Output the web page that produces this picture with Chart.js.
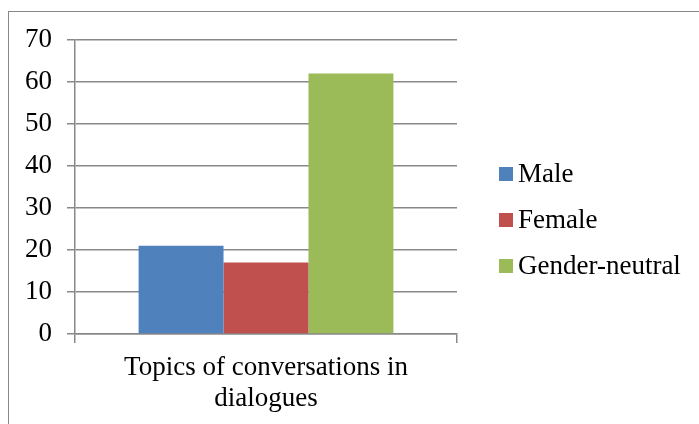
<!DOCTYPE html>
<html>
<head>
<meta charset="utf-8">
<script src="https://cdn.jsdelivr.net/npm/chart.js@4/dist/chart.umd.min.js"></script>
<style>
    html, body { margin: 0; padding: 0; background: #fff; overflow: hidden; }
    #frame {
        position: absolute; left: 8px; top: 11px;
        width: 720px; height: 440px;
        border: 1px solid #888;
        box-sizing: border-box;
    }
    #wrap { position: absolute; left: 0; top: 0; width: 699px; height: 424px; }
    #legend {
        position: absolute; left: 499px; top: 150px;
        font-family: 'Liberation Serif', 'Times New Roman', serif;
        font-size: 27px; color: #000;
    }
    #legend .item { height: 46px; line-height: 46px; white-space: nowrap; }
    #legend .box {
        display: inline-block; width: 14px; height: 14px;
        margin-right: 5px; vertical-align: middle; position: relative; top: -2px;
    }
</style>
</head>
<body>
<div id="frame"></div>
<div id="wrap"><canvas id="topicsChart" width="699" height="424"></canvas></div>
<div id="legend"></div>
<script>
// Données
const categories = [['Topics of conversations in', 'dialogues']];
const maleValues = [21];
const femaleValues = [17];
const neutralValues = [62];
const yTicks = [0, 10, 20, 30, 40, 50, 60, 70];

const FONT = "'Liberation Serif', 'Times New Roman', serif";

const chart = new Chart(document.getElementById('topicsChart'), {
    type: 'bar',
    data: {
        labels: categories,
        datasets: [
            { label: 'Male', data: maleValues, backgroundColor: '#4F81BD' },
            { label: 'Female', data: femaleValues, backgroundColor: '#C0504D' },
            { label: 'Gender-neutral', data: neutralValues, backgroundColor: '#9BBB59' }
        ]
    },
    options: {
        responsive: false,
        animation: false,
        layout: {
            padding: { left: 20, top: 40, right: 242, bottom: 10 }
        },
        datasets: {
            bar: { categoryPercentage: 0.667, barPercentage: 1.0 }
        },
        plugins: {
            legend: { display: false },
            tooltip: { enabled: false }
        },
        scales: {
            x: {
                grid: {
                    offset: true,
                    drawOnChartArea: false,
                    color: '#888',
                    lineWidth: 1.5,
                    tickLength: 9
                },
                border: { color: '#888', width: 1.5 },
                ticks: {
                    font: { family: FONT, size: 27, lineHeight: 1.15 },
                    color: '#000',
                    padding: 9,
                    maxRotation: 0
                },
                afterFit: function(scale) { scale.height = 80; }
            },
            y: {
                min: 0,
                max: 70,
                afterBuildTicks: function(scale) {
                    scale.ticks = yTicks.map(v => ({ value: v }));
                },
                grid: {
                    color: '#888',
                    lineWidth: 1.5,
                    tickLength: 8
                },
                border: { color: '#888', width: 1.5 },
                ticks: {
                    font: { family: FONT, size: 27 },
                    color: '#000',
                    padding: 15
                },
                afterFit: function(scale) { scale.width = 55; }
            }
        }
    }
});

// Légende HTML à droite, construite à partir des datasets
const legendEl = document.getElementById('legend');
chart.data.datasets.forEach(ds => {
    const item = document.createElement('div');
    item.className = 'item';
    const box = document.createElement('span');
    box.className = 'box';
    box.style.background = ds.backgroundColor;
    item.appendChild(box);
    item.appendChild(document.createTextNode(ds.label));
    legendEl.appendChild(item);
});
</script>
</body>
</html>
